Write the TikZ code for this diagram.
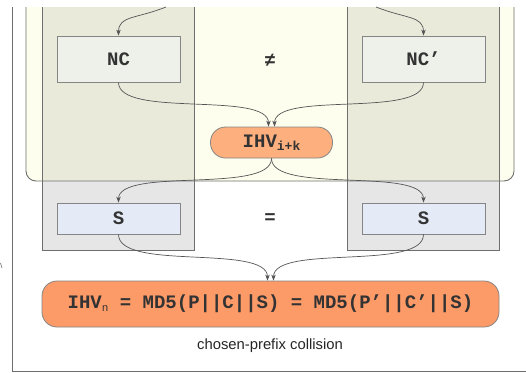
\documentclass[tikz,border=0pt]{standalone}
\usepackage{fontspec}
\setmainfont{Liberation Sans}
\setmonofont{Liberation Mono}
\usetikzlibrary{arrows.meta}
\definecolor{yelbg}{HTML}{FEFEEE}
\definecolor{coltop}{HTML}{EAEADB}
\definecolor{colgray}{HTML}{E6E6E6}
\definecolor{ncfill}{HTML}{EEF1E9}
\definecolor{sfill}{HTML}{E4EBF6}
\definecolor{ihvfill}{HTML}{FDB07E}
\definecolor{botfill}{HTML}{FC9A68}
\definecolor{frameline}{HTML}{6E6E6E}
\definecolor{boxline}{HTML}{858585}
\definecolor{linegray}{HTML}{555555}
\definecolor{txt}{HTML}{333333}
\newcommand{\monotext}{\ttfamily\bfseries\fontsize{19}{22}\selectfont\color{txt}}
\newcommand{\subsk}[1]{\raisebox{-3.5pt}{\fontsize{13}{13}\selectfont #1}}
\newcommand{\subsn}[1]{\raisebox{-2.5pt}{\fontsize{11}{11}\selectfont\mdseries #1}}
\begin{document}
\begin{tikzpicture}[x=1pt,y=-1pt,
  box/.style={draw=boxline, line width=0.8pt, minimum width=123pt, inner sep=0pt, font=\monotext},
  ncbox/.style={box, fill=ncfill, minimum height=46pt},
  sbox/.style={box, fill=sfill, minimum height=31pt},
  pill/.style={draw=boxline, line width=0.8pt, fill=ihvfill, rounded corners=15pt, minimum width=122pt, minimum height=31pt, inner sep=0pt, font=\monotext},
  bigpill/.style={draw=boxline, line width=0.8pt, fill=botfill, rounded corners=15pt, minimum width=457pt, minimum height=46pt, inner sep=0pt, font=\monotext},
  sym/.style={font=\monotext, inner sep=0pt},
  captext/.style={font=\fontsize{14.8}{17}\selectfont, text=black!85, inner sep=0pt},
  conn/.style={draw=linegray, line width=0.7pt, -{Stealth[length=6pt,width=4.5pt]}}
]
\useasboundingbox (0,0) rectangle (526,372);
\fill[white] (0,0) rectangle (526,372);
\begin{scope}
  \clip (0,7) rectangle (526,372);
  \fill[yelbg, rounded corners=10pt] (26,-20) rectangle (514,181);
  \fill[coltop] (42,-20) rectangle (194,181);
  \fill[coltop] (347,-20) rectangle (499,181);
  \fill[colgray] (42,181) rectangle (194,250);
  \fill[colgray] (347,181) rectangle (499,250);
  \draw[frameline, line width=0.9pt, rounded corners=10pt] (26,-20) rectangle (514,181);
  \draw[frameline, line width=0.9pt] (42,-20) rectangle (194,250);
  \draw[frameline, line width=0.9pt] (347,-20) rectangle (499,250);
  \draw[frameline, line width=0.9pt] (12,0) -- (12,371) -- (530,371);
\end{scope}
\draw[frameline, line width=0.6pt] (0.5,263) -- (2,268);

\node[ncbox] (nc) at (118.5,59) {NC};
\node[ncbox] (ncp) at (423.5,59) {NC’};
\node[sym] (neq) at (270,60) {≠};
\node[pill] (ihv) at (271.5,142.5) {IHV\subsk{i+k}};
\node[sbox] (s1) at (118.5,218.5) {S};
\node[sbox] (s2) at (423.5,218.5) {S};
\node[sym] (eq) at (270,219) {=};
\node[bigpill] (res) at (270.5,304) {IHV\subsn{n} = MD5(P||C||S) = MD5(P’||C’||S)};
\node[captext] (cap) at (270,346) {chosen-prefix collision};

\coordinate (ta) at (166,7);
\coordinate (tb) at (376,7);
\draw[conn] (ta) .. controls +(-30,12) and +(0,-20) .. (nc.north);
\draw[conn] (tb) .. controls +(30,12) and +(0,-20) .. (ncp.north);
\draw[conn] (nc.south) .. controls +(0,36) and +(0,-36) .. ([xshift=-3pt]ihv.north);
\draw[conn] (ncp.south) .. controls +(0,36) and +(0,-36) .. ([xshift=3pt]ihv.north);
\draw[conn] (ihv.south) .. controls +(0,36) and +(0,-36) .. (s1.north);
\draw[conn] (ihv.south) .. controls +(0,36) and +(0,-36) .. (s2.north);
\draw[conn] (s1.south) .. controls +(0,37) and +(0,-37) .. ([xshift=-3pt]res.north);
\draw[conn] (s2.south) .. controls +(0,37) and +(0,-37) .. ([xshift=3pt]res.north);
\end{tikzpicture}
\end{document}
